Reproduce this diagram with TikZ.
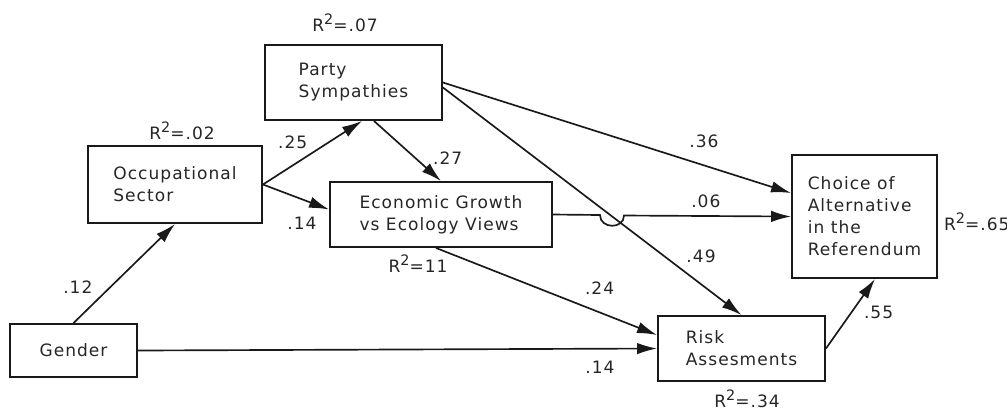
\documentclass[tikz,border=0pt]{standalone}
\usepackage{fontspec}
\setmainfont{DejaVu Sans}[LetterSpace=6]
\usepackage{tikz}
\usetikzlibrary{positioning,arrows.meta}
\newcommand{\rsqd}{R\raisebox{0.42em}{\fontsize{8.2pt}{8.2pt}\selectfont 2}}

\begin{document}
\begin{tikzpicture}[
    x=0.02cm, y=-0.02cm,
    font=\fontsize{9.7pt}{12.5pt}\selectfont,
    var/.style={draw=black!90, line width=1.1pt, align=left, inner sep=0pt,
      text=black!85},
    rsq/.style={inner sep=1pt, text=black!85},
    coef/.style={inner sep=1pt, text=black!85},
    arr/.style={-{Latex[length=4mm,width=2.3mm]}, line width=0.95pt, draw=black!90},
  ]
    \useasboundingbox (0,0) rectangle (1007,414);

    % variables
    \node[var, minimum width=3.54cm, minimum height=1.5cm] (party) at (353.5,82.5) {Party\\Sympathies};
    \node[var, minimum width=3.48cm, minimum height=1.54cm] (occ) at (175,184.5) {Occupational\\Sector};
    \node[var, minimum width=4.44cm, minimum height=1.3cm] (eco) at (441,214.5) {Economic Growth\\vs Ecology Views};
    \node[var, align=center, minimum width=2.54cm, minimum height=1.06cm] (gender) at (73.5,350.5) {Gender};
    \node[var, minimum width=3.34cm, minimum height=1.3cm] (risk) at (741.5,348.5) {Risk\\Assesments};
    \node[var, minimum width=2.9cm, minimum height=2.46cm] (choice) at (864.5,216.5) {Choice of\\Alternative\\in the\\Referendum};

    % explained variance
    \node[rsq, above=0.2cm of party, xshift=-0.17cm] (rparty) {\rsqd=.07};
    \node[rsq, above=0.06cm of occ, xshift=0.14cm] (rocc) {\rsqd=.02};
    \node[rsq, below=0.1cm of eco, xshift=-0.46cm] (reco) {\rsqd=11};
    \node[rsq, right=0.08cm of choice, yshift=-0.1cm] (rchoice) {\rsqd=.65};
    \node[rsq, below=0.12cm of risk, xshift=0.11cm] (rrisk) {\rsqd=.34};

    % hop over the Party -> Risk path
    \coordinate (hopL) at (600,215);
    \coordinate (hopR) at (624,215.5);

    % paths
    \draw[arr] (gender.north) -- node[coef, pos=0.36, left=0.3cm] (c12) {.12} (occ.south);
    \draw[arr] (occ.east) -- node[coef, pos=0.3, above=0.28cm] (c25) {.25} ([xshift=0.17cm]party.south);
    \draw[arr] (occ.east) -- node[coef, pos=0.59, below=0.3cm] (c14a) {.14} ([yshift=0.1cm]eco.west);
    \draw[arr] ([xshift=0.41cm]party.south) -- node[coef, pos=0.62, right=0.3cm] (c27) {.27} (eco.north);
    \draw[arr] (party.east) -- node[coef, pos=0.75, above=0.3cm] (c36) {.36} ([yshift=0.47cm]choice.west);
    \draw[arr] ([yshift=-0.1cm]party.east) -- node[coef, pos=0.74, right=0.4cm] (c49) {.49} (risk.north);
    \draw[arr] (eco.east) -- (hopL) .. controls +(0,14) and +(0,14) .. (hopR)
      -- node[coef, pos=0.49, above=0.12cm] (c06) {.06} (choice.west);
    \draw[arr] ([xshift=-0.1cm]eco.south) -- node[coef, pos=0.74, above=0.3cm] (c24) {.24} ([yshift=0.27cm]risk.west);
    \draw[arr] (gender.east) -- node[coef, pos=0.89, below=0.2cm] (c14b) {.14} (risk.west);
    \draw[arr] (risk.east) -- node[coef, pos=0.52, right=0.2cm] (c55) {.55} ([xshift=0.21cm]choice.south);
\end{tikzpicture}
\end{document}
